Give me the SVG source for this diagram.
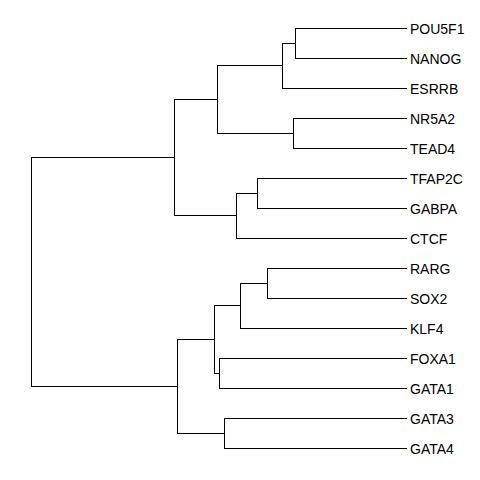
<svg xmlns="http://www.w3.org/2000/svg" width="480" height="480" viewBox="0 0 480 480">
<style>
.e{fill:none;stroke:#000;stroke-width:1;stroke-linecap:square}
.t{font-family:"Liberation Sans",Arial,sans-serif;font-size:14px;fill:#000}
</style>
<rect width="480" height="480" fill="#fff"/>
<g id="connectors">
<path class="e" d="M31.5,157.5V386.5M31.5,157.5H174.5M31.5,386.5H177.5"/>
<path class="e" d="M174.5,99.5V215.5M174.5,99.5H217.5M174.5,215.5H236.5"/>
<path class="e" d="M217.5,65.5V133.5M217.5,65.5H282.5M217.5,133.5H293.5"/>
<path class="e" d="M282.5,43.5V88.5M282.5,43.5H295.5M282.5,88.5H406.5"/>
<path class="e" d="M295.5,28.5V58.5M295.5,28.5H406.5M295.5,58.5H406.5"/>
<path class="e" d="M293.5,118.5V148.5M293.5,118.5H406.5M293.5,148.5H406.5"/>
<path class="e" d="M236.5,193.5V238.5M236.5,193.5H257.5M236.5,238.5H406.5"/>
<path class="e" d="M257.5,178.5V208.5M257.5,178.5H406.5M257.5,208.5H406.5"/>
<path class="e" d="M177.5,339.5V433.5M177.5,339.5H214.5M177.5,433.5H224.5"/>
<path class="e" d="M214.5,305.5V373.5M214.5,305.5H240.5M214.5,373.5H219.5"/>
<path class="e" d="M240.5,283.5V328.5M240.5,283.5H267.5M240.5,328.5H406.5"/>
<path class="e" d="M267.5,268.5V298.5M267.5,268.5H406.5M267.5,298.5H406.5"/>
<path class="e" d="M219.5,358.5V388.5M219.5,358.5H406.5M219.5,388.5H406.5"/>
<path class="e" d="M224.5,418.5V448.5M224.5,418.5H406.5M224.5,448.5H406.5"/>
</g>
<g id="POU5F1"><text class="t" x="410" y="34">POU5F1</text></g>
<g id="NANOG"><text class="t" x="410" y="64">NANOG</text></g>
<g id="ESRRB"><text class="t" x="410" y="94">ESRRB</text></g>
<g id="NR5A2"><text class="t" x="410" y="124">NR5A2</text></g>
<g id="TEAD4"><text class="t" x="410" y="154">TEAD4</text></g>
<g id="TFAP2C"><text class="t" x="410" y="184">TFAP2C</text></g>
<g id="GABPA"><text class="t" x="410" y="214">GABPA</text></g>
<g id="CTCF"><text class="t" x="410" y="244">CTCF</text></g>
<g id="RARG"><text class="t" x="410" y="274">RARG</text></g>
<g id="SOX2"><text class="t" x="410" y="304">SOX2</text></g>
<g id="KLF4"><text class="t" x="410" y="334">KLF4</text></g>
<g id="FOXA1"><text class="t" x="410" y="364">FOXA1</text></g>
<g id="GATA1"><text class="t" x="410" y="394">GATA1</text></g>
<g id="GATA3"><text class="t" x="410" y="424">GATA3</text></g>
<g id="GATA4"><text class="t" x="410" y="454">GATA4</text></g>
</svg>
